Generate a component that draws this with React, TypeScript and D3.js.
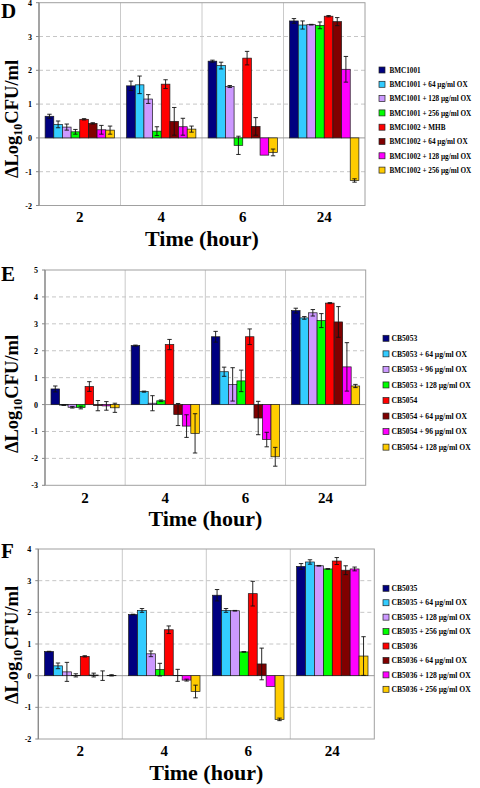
import React from "react";
import * as d3 from "d3";

const categories = ["2", "4", "6", "24"];
const seriesColors = ["#000080", "#33CCFF", "#CC99FF", "#00FF00", "#FF0000", "#800000", "#FF00FF", "#FFCC00"];

const dLabels = [
  "BMC1001",
  "BMC1001 + 64 µg/ml OX",
  "BMC1001 + 128 µg/ml OX",
  "BMC1001 + 256 µg/ml OX",
  "BMC1002 + MHB",
  "BMC1002 + 64 µg/ml OX",
  "BMC1002 + 128 µg/ml OX",
  "BMC1002 + 256 µg/ml OX",
];
const dMeans = [
  [0.64, 1.54, 2.27, 3.46],
  [0.4, 1.57, 2.14, 3.34],
  [0.32, 1.15, 1.52, 3.35],
  [0.18, 0.2, -0.22, 3.33],
  [0.55, 1.59, 2.36, 3.6],
  [0.43, 0.49, 0.34, 3.44],
  [0.24, 0.33, -0.51, 2.03],
  [0.23, 0.26, -0.43, -1.26],
];
const dErrors = [
  [0.06, 0.14, 0.03, 0.07],
  [0.1, 0.26, 0.1, 0.12],
  [0.09, 0.13, 0.03, 0.01],
  [0.07, 0.13, 0.27, 0.1],
  [0.02, 0.13, 0.2, 0.02],
  [0.02, 0.41, 0.26, 0.12],
  [0.13, 0.25, 0.0, 0.38],
  [0.12, 0.09, 0.1, 0.05],
];

const eLabels = [
  "CB5053",
  "CB5053 + 64 µg/ml OX",
  "CB5053 + 96 µg/ml OX",
  "CB5053 + 128 µg/ml OX",
  "CB5054",
  "CB5054 + 64 µg/ml OX",
  "CB5054 + 96 µg/ml OX",
  "CB5054 + 128 µg/ml OX",
];
const eMeans = [
  [0.58, 2.19, 2.52, 3.49],
  [-0.02, 0.48, 1.22, 3.22],
  [-0.1, 0.05, 0.75, 3.41],
  [-0.11, 0.14, 0.88, 3.12],
  [0.67, 2.23, 2.52, 3.77],
  [-0.04, -0.37, -0.5, 3.07],
  [-0.05, -0.8, -1.3, 1.4],
  [-0.12, -1.07, -1.94, 0.69],
];
const eErrors = [
  [0.11, 0.02, 0.2, 0.09],
  [0.01, 0.02, 0.17, 0.05],
  [0.03, 0.28, 0.62, 0.12],
  [0.05, 0.03, 0.4, 0.26],
  [0.18, 0.19, 0.29, 0.02],
  [0.19, 0.41, 0.62, 0.57],
  [0.16, 0.42, 0.27, 0.9],
  [0.17, 0.73, 0.35, 0.06],
];

const fLabels = [
  "CB5035",
  "CB5035 + 64 µg/ml OX",
  "CB5035 + 128 µg/ml OX",
  "CB5035 + 256 µg/ml OX",
  "CB5036",
  "CB5036 + 64 µg/ml OX",
  "CB5036 + 128 µg/ml OX",
  "CB5036 + 256 µg/ml OX",
];
const fMeans = [
  [0.76, 1.93, 2.54, 3.45],
  [0.31, 2.06, 2.06, 3.59],
  [0.12, 0.69, 2.05, 3.47],
  [0.01, 0.19, 0.75, 3.37],
  [0.61, 1.45, 2.59, 3.62],
  [0.02, 0.01, 0.37, 3.33],
  [0.0, -0.14, -0.34, 3.37],
  [0.01, -0.5, -1.38, 0.62],
];
const fErrors = [
  [0.01, 0.01, 0.18, 0.09],
  [0.09, 0.06, 0.06, 0.07],
  [0.3, 0.09, 0.01, 0.01],
  [0.05, 0.2, 0.01, 0.01],
  [0.02, 0.12, 0.39, 0.11],
  [0.06, 0.19, 0.5, 0.14],
  [0.15, 0.03, 0.0, 0.06],
  [0.02, 0.2, 0.04, 0.61],
];

const FONT = "'Liberation Serif', 'Times New Roman', serif";

type PanelProps = {
  letter: string;
  labels: string[];
  means: number[][];
  errors: number[][];
  yDomain: [number, number];
  left: number;
  right: number;
  top: number;
  bottom: number;
  letterY: number;
  xLabelY: number;
  titleY: number;
  yTitleCenter: number;
  legendX: number;
  legendTextX: number;
  legendY: number;
  legendStep: number;
  legendFont: number;
};

function Panel(p: PanelProps) {
  const x = d3.scaleBand<string>().domain(categories).range([p.left, p.right]).paddingInner(0).paddingOuter(0);
  const inner = d3
    .scaleBand<number>()
    .domain(d3.range(p.labels.length))
    .range([x.bandwidth() * 0.075, x.bandwidth() * 0.925])
    .padding(0);
  const y = d3.scaleLinear().domain(p.yDomain).range([p.bottom, p.top]);
  const ticks = d3.range(p.yDomain[0], p.yDomain[1] + 1, 1);
  const bw = inner.bandwidth();
  const centerX = (p.left + p.right) / 2;
  return (
    <g>
      <text x={1} y={p.letterY} fontFamily={FONT} fontWeight="bold" fontSize={21}>
        {p.letter}
      </text>
      {ticks
        .filter((t) => t !== 0 && t !== p.yDomain[0] && t !== p.yDomain[1])
        .map((t) => (
          <line key={"g" + t} x1={p.left} x2={p.right} y1={y(t)} y2={y(t)} stroke="#b8b8b8" strokeWidth={0.8} strokeDasharray="4,3" />
        ))}
      {categories.slice(1).map((c) => (
        <line key={"v" + c} x1={x(c)!} x2={x(c)!} y1={p.top} y2={p.bottom} stroke="#c4c4c4" strokeWidth={0.9} />
      ))}
      <rect x={p.left} y={p.top} width={p.right - p.left} height={p.bottom - p.top} fill="none" stroke="#a0a0a0" strokeWidth={1} />
      <line x1={p.left} x2={p.right} y1={y(0)} y2={y(0)} stroke="#9a9a9a" strokeWidth={1} />
      <line x1={p.left} x2={p.left} y1={p.top} y2={p.bottom} stroke="#888" strokeWidth={1.2} />
      {ticks.map((t) => (
        <g key={"t" + t}>
          <line x1={p.left - 3} x2={p.left} y1={y(t)} y2={y(t)} stroke="#888" strokeWidth={1} />
          <text x={p.left - 7} y={y(t) + 3} textAnchor="end" fontFamily={FONT} fontWeight="bold" fontSize={8}>
            {t}
          </text>
        </g>
      ))}
      {p.means.map((row, s) =>
        row.map((v, ci) => {
          const bx = x(categories[ci])! + inner(s)!;
          const y0 = y(0);
          const yv = y(v);
          return (
            <rect
              key={"b" + s + "-" + ci}
              x={bx}
              y={Math.min(y0, yv)}
              width={bw}
              height={Math.abs(yv - y0)}
              fill={seriesColors[s]}
              stroke="#1a1a1a"
              strokeWidth={0.7}
            />
          );
        })
      )}
      {p.means.map((row, s) =>
        row.map((v, ci) => {
          const e = p.errors[s][ci];
          if (e <= 0) return null;
          const cx = x(categories[ci])! + inner(s)! + bw / 2;
          const y1 = y(v + e);
          const y2 = y(v - e);
          return (
            <g key={"e" + s + "-" + ci} stroke="#111" strokeWidth={0.9}>
              <line x1={cx} x2={cx} y1={y1} y2={y2} />
              <line x1={cx - 2.2} x2={cx + 2.2} y1={y1} y2={y1} />
              <line x1={cx - 2.2} x2={cx + 2.2} y1={y2} y2={y2} />
            </g>
          );
        })
      )}
      {categories.map((c) => (
        <text key={"x" + c} x={x(c)! + x.bandwidth() / 2} y={p.xLabelY} textAnchor="middle" fontFamily={FONT} fontWeight="bold" fontSize={15}>
          {c}
        </text>
      ))}
      <text x={centerX} y={p.titleY} textAnchor="middle" fontFamily={FONT} fontWeight="bold" fontSize={22}>
        Time (hour)
      </text>
      <text
        transform={`translate(${17.5},${p.yTitleCenter}) rotate(-90)`}
        textAnchor="middle"
        fontFamily={FONT}
        fontWeight="bold"
        fontSize={18.5}
      >
        ΔLog
        <tspan fontSize={12} dy={4}>10</tspan>
        <tspan dy={-4}>CFU/ml</tspan>
      </text>
      {p.labels.map((l, i) => {
        const ly = p.legendY + i * p.legendStep;
        return (
          <g key={"l" + i}>
            <rect x={p.legendX - 3} y={ly - 3} width={6} height={6} fill={seriesColors[i]} stroke="#222" strokeWidth={0.7} />
            <text x={p.legendTextX} y={ly + 2.7} fontFamily={FONT} fontWeight="bold" fontSize={p.legendFont}>
              {l}
            </text>
          </g>
        );
      })}
    </g>
  );
}

export default function App() {
  return (
    <div style={{ position: "absolute", left: 0, top: 0 }}>
      <svg width={480} height={788} style={{ display: "block", background: "#fff" }}>
        <Panel
          letter="D"
          labels={dLabels}
          means={dMeans}
          errors={dErrors}
          yDomain={[-2, 4]}
          left={39}
          right={365}
          top={2.7}
          bottom={205.5}
          letterY={18}
          xLabelY={222}
          titleY={246}
          yTitleCenter={119}
          legendX={382}
          legendTextX={389.5}
          legendY={70}
          legendStep={14.3}
          legendFont={7.2}
        />
        <Panel
          letter="E"
          labels={eLabels}
          means={eMeans}
          errors={eErrors}
          yDomain={[-3, 5]}
          left={45}
          right={365.7}
          top={270}
          bottom={485.3}
          letterY={281}
          xLabelY={503}
          titleY={526}
          yTitleCenter={394}
          legendX={386}
          legendTextX={391.5}
          legendY={338.3}
          legendStep={15.55}
          legendFont={7.6}
        />
        <Panel
          letter="F"
          labels={fLabels}
          means={fMeans}
          errors={fErrors}
          yDomain={[-2, 4]}
          left={38.3}
          right={374.3}
          top={549}
          bottom={739}
          letterY={558}
          xLabelY={756}
          titleY={780}
          yTitleCenter={645}
          legendX={386}
          legendTextX={391.5}
          legendY={588.3}
          legendStep={14.43}
          legendFont={7.6}
        />
      </svg>
    </div>
  );
}
